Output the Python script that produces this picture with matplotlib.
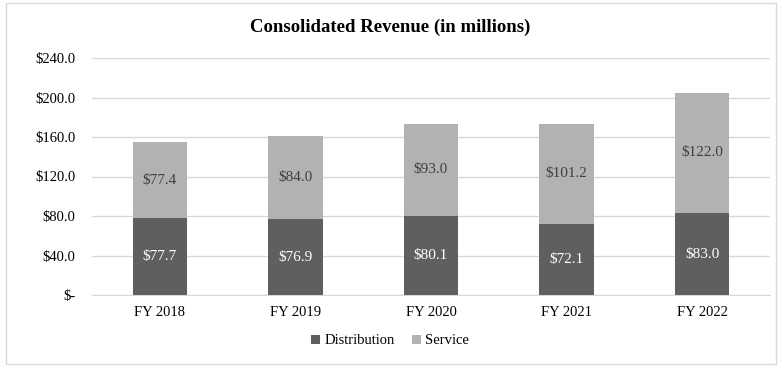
import matplotlib.pyplot as plt
from matplotlib.patches import Rectangle
import numpy as np

years = ["FY 2018", "FY 2019", "FY 2020", "FY 2021", "FY 2022"]
distribution = [77.7, 76.9, 80.1, 72.1, 83.0]
service = [77.4, 84.0, 93.0, 101.2, 122.0]
y_ticks = [0, 40, 80, 120, 160, 200, 240]

DARK = "#5f5f5f"
LIGHT = "#b2b2b2"

plt.rcParams["font.family"] = ["Liberation Serif", "DejaVu Serif"]


def money(v):
    return "$-" if v == 0 else f"${v:.1f}"


fig = plt.figure(figsize=(7.84, 3.69), dpi=100)
fig.patches.append(Rectangle((6 / 784, 5 / 369), 770 / 784, 361 / 369,
                             transform=fig.transFigure, fill=False,
                             edgecolor="#d9d9d9", linewidth=1))
ax = fig.add_axes([92 / 784, 1 - 295 / 369, 678 / 784, (295 - 58) / 369])

x = np.arange(len(years))
b1 = ax.bar(x, distribution, width=0.4, color=DARK, label="Distribution", zorder=3)
b2 = ax.bar(x, service, width=0.4, bottom=distribution, color=LIGHT, label="Service", zorder=3)

for xi, d, s in zip(x, distribution, service):
    ax.text(xi, d / 2, money(d), ha="center", va="center", color="white", fontsize=11, zorder=4)
    ax.text(xi, d + s / 2, money(s), ha="center", va="center", color="#404040", fontsize=11, zorder=4)

ax.set_xlim(-0.5, len(years) - 0.5)
ax.set_ylim(0, 240)
ax.set_yticks(y_ticks)
ax.set_yticklabels([money(v) for v in y_ticks])
ax.set_xticks(x)
ax.set_xticklabels(years)
ax.tick_params(axis="both", length=0, labelsize=10.5, colors="#000000")
ax.tick_params(axis="y", pad=12)
ax.tick_params(axis="x", pad=8)
ax.grid(axis="y", color="#d9d9d9", linewidth=1, zorder=0)
for side in ["top", "right", "left"]:
    ax.spines[side].set_visible(False)
ax.spines["bottom"].set_color("#d9d9d9")

fig.text(390 / 784, 1 - 27 / 369, "Consolidated Revenue (in millions)", ha="center", va="center",
         fontsize=13.5, fontweight="bold")
fig.legend(handles=[b1, b2], loc="center", bbox_to_anchor=(390 / 784, 1 - 341 / 369), ncol=2,
           frameon=False, fontsize=10.5, handlelength=0.6, handleheight=0.6, handletextpad=0.3,
           columnspacing=1.2)

fig.savefig("out.png", dpi=100)
